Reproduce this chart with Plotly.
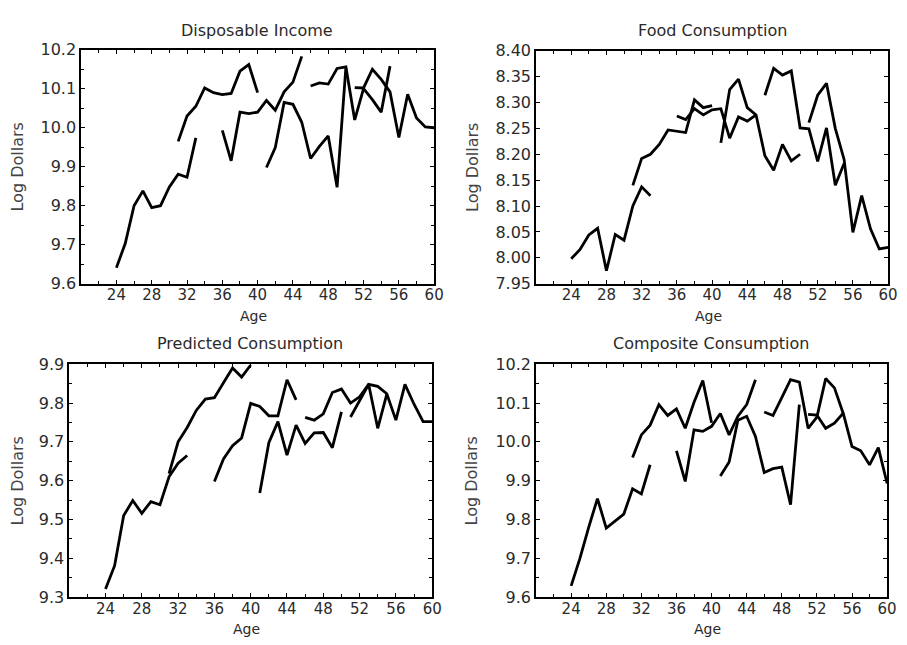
import plotly.graph_objects as go

W, H = 907, 645

# ---------------- data ----------------
cohort_starts = [24, 31, 36, 41, 46, 51]
age_ticks = [24, 28, 32, 36, 40, 44, 48, 52, 56, 60]

income_a = [9.641, 9.703, 9.800, 9.838, 9.795, 9.800, 9.848, 9.881, 9.873, 9.974]
income_b = [9.965, 10.030, 10.055, 10.102, 10.090, 10.085, 10.088, 10.145, 10.162, 10.090]
income_c = [9.993, 9.915, 10.040, 10.036, 10.040, 10.070, 10.045, 10.092, 10.117, 10.183]
income_d = [9.898, 9.949, 10.065, 10.060, 10.014, 9.921, 9.952, 9.979, 9.847, 10.155]
income_e = [10.107, 10.115, 10.112, 10.152, 10.156, 10.020, 10.100, 10.072, 10.040, 10.158]
income_f = [10.103, 10.102, 10.150, 10.124, 10.092, 9.975, 10.086, 10.025, 10.002, 10.000]

food_a = [7.998, 8.016, 8.044, 8.057, 7.975, 8.045, 8.034, 8.100, 8.137, 8.120]
food_b = [8.140, 8.192, 8.200, 8.219, 8.247, 8.244, 8.242, 8.305, 8.290, 8.294]
food_c = [8.274, 8.267, 8.288, 8.276, 8.286, 8.288, 8.231, 8.272, 8.264, 8.276]
food_d = [8.222, 8.325, 8.345, 8.290, 8.276, 8.197, 8.169, 8.219, 8.187, 8.200]
food_e = [8.314, 8.366, 8.353, 8.361, 8.251, 8.249, 8.186, 8.251, 8.140, 8.182]
food_f = [8.261, 8.314, 8.337, 8.250, 8.190, 8.049, 8.120, 8.056, 8.017, 8.020]

pred_a = [9.321, 9.381, 9.510, 9.549, 9.516, 9.546, 9.538, 9.610, 9.645, 9.665]
pred_b = [9.618, 9.700, 9.737, 9.781, 9.810, 9.814, 9.852, 9.890, 9.867, 9.898]
pred_c = [9.598, 9.656, 9.690, 9.710, 9.799, 9.791, 9.767, 9.767, 9.860, 9.808]
pred_d = [9.568, 9.698, 9.752, 9.666, 9.743, 9.696, 9.723, 9.724, 9.685, 9.777]
pred_e = [9.763, 9.756, 9.772, 9.827, 9.836, 9.800, 9.816, 9.848, 9.735, 9.823]
pred_f = [9.764, 9.805, 9.848, 9.843, 9.824, 9.756, 9.848, 9.797, 9.752, 9.752]

comp_a = [9.629, 9.700, 9.780, 9.854, 9.778, 9.796, 9.814, 9.879, 9.866, 9.941]
comp_b = [9.960, 10.018, 10.043, 10.096, 10.068, 10.085, 10.035, 10.102, 10.158, 10.049]
comp_c = [9.977, 9.898, 10.031, 10.027, 10.040, 10.073, 10.018, 10.066, 10.096, 10.160]
comp_d = [9.912, 9.948, 10.056, 10.066, 10.014, 9.921, 9.931, 9.935, 9.838, 10.096]
comp_e = [10.077, 10.068, 10.114, 10.160, 10.154, 10.035, 10.064, 10.163, 10.139, 10.073]
comp_f = [10.071, 10.069, 10.035, 10.048, 10.074, 9.988, 9.977, 9.941, 9.985, 9.893]

income_ticks = [9.6, 9.7, 9.8, 9.9, 10.0, 10.1, 10.2]
food_ticks = [7.95, 8.00, 8.05, 8.10, 8.15, 8.20, 8.25, 8.30, 8.35, 8.40]
pred_ticks = [9.3, 9.4, 9.5, 9.6, 9.7, 9.8, 9.9]
comp_ticks = [9.6, 9.7, 9.8, 9.9, 10.0, 10.1, 10.2]

titles = ["Disposable Income", "Food Consumption",
          "Predicted Consumption", "Composite Consumption"]

# ---------------- layout geometry (pixels) ----------------
panels = [
    dict(title=titles[0], series=[income_a, income_b, income_c, income_d, income_e, income_f],
         ticks=income_ticks, dec=1, minor=0.05, box=(82, 439, 42, 283), tx=260, ty=22),
    dict(title=titles[1], series=[food_a, food_b, food_c, food_d, food_e, food_f],
         ticks=food_ticks, dec=2, minor=None, box=(542, 898, 43, 283), tx=720, ty=22),
    dict(title=titles[2], series=[pred_a, pred_b, pred_c, pred_d, pred_e, pred_f],
         ticks=pred_ticks, dec=1, minor=0.05, box=(70, 437, 366, 606), tx=253, ty=345),
    dict(title=titles[3], series=[comp_a, comp_b, comp_c, comp_d, comp_e, comp_f],
         ticks=comp_ticks, dec=1, minor=0.05, box=(542, 897, 366, 606), tx=719, ty=345),
]

FONT = "DejaVu Sans"
TXT = "#2a2a2a"

fig = go.Figure()
annotations = []
layout_axes = {}

for i, p in enumerate(panels, start=1):
    xa = "x" if i == 1 else f"x{i}"
    ya = "y" if i == 1 else f"y{i}"
    for s, vals in zip(cohort_starts, p["series"]):
        ages = list(range(s, s + len(vals)))
        fig.add_trace(go.Scatter(x=ages, y=vals, mode="lines", xaxis=xa, yaxis=ya,
                                 line=dict(color="black", width=2.8),
                                 showlegend=False, hoverinfo="skip"))
    x0, x1, y0, y1 = p["box"]
    xkey = "xaxis" if i == 1 else f"xaxis{i}"
    ykey = "yaxis" if i == 1 else f"yaxis{i}"
    layout_axes[xkey] = dict(
        domain=[x0 / W, x1 / W], anchor=ya, range=[20, 60],
        tickmode="array", tickvals=age_ticks, ticktext=[str(a) for a in age_ticks],
        ticks="inside", ticklen=4, tickcolor="black", mirror="allticks",
        showline=True, linecolor="black", linewidth=1.6, showgrid=False, zeroline=False,
        minor=dict(ticks="inside", ticklen=3, tickcolor="black", tick0=20, dtick=2),
        tickfont=dict(family=FONT, size=15, color=TXT),
        ticklabelstandoff=-3,
    )
    fmt = "{:.%df}" % p["dec"]
    ydict = dict(
        domain=[1 - y1 / H, 1 - y0 / H], anchor=xa,
        range=[p["ticks"][0], p["ticks"][-1]],
        tickmode="array", tickvals=p["ticks"], ticktext=[fmt.format(v) for v in p["ticks"]],
        ticks="inside", ticklen=4, tickcolor="black", mirror="allticks",
        showline=True, linecolor="black", linewidth=1.6, showgrid=False, zeroline=False,
        tickfont=dict(family=FONT, size=16, color=TXT),
    )
    if p["minor"]:
        ydict["minor"] = dict(ticks="inside", ticklen=3, tickcolor="black",
                              tick0=p["ticks"][0], dtick=p["minor"])
    layout_axes[ykey] = ydict

    annotations.append(dict(text=p["title"], x=p["tx"] / W, y=1 - p["ty"] / H,
                            xref="paper", yref="paper", showarrow=False,
                            xanchor="center", yanchor="middle",
                            font=dict(family=FONT, size=16, color=TXT)))
    annotations.append(dict(text="Age", x=((x0 + x1) / 2 - 4) / W, y=1 - (y1 + 33) / H,
                            xref="paper", yref="paper", showarrow=False,
                            xanchor="center", yanchor="middle",
                            font=dict(family=FONT, size=14, color=TXT)))
    lx = 18 if x0 < 300 else 477
    annotations.append(dict(text="Log Dollars", x=lx / W, y=1 - ((y0 + y1) / 2) / H,
                            xref="paper", yref="paper", showarrow=False, textangle=-90,
                            xanchor="center", yanchor="middle",
                            font=dict(family=FONT, size=16, color="#444444")))

fig.update_layout(width=W, height=H, margin=dict(l=0, r=0, t=0, b=0),
                  paper_bgcolor="white", plot_bgcolor="white",
                  annotations=annotations, **layout_axes)

fig.write_html("out.html", config={"displayModeBar": False},
               post_script="document.body.style.margin='0';document.body.style.overflow='hidden';")
